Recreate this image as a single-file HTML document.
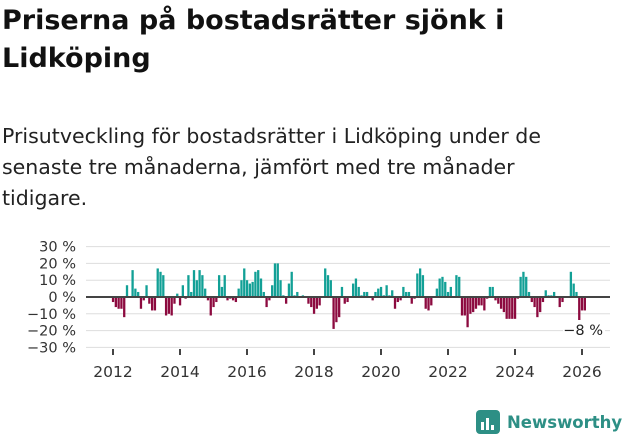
<!DOCTYPE html>
<html><head><meta charset="utf-8"><style>
body{margin:0;width:631px;height:439px;background:#fff;font-family:"DejaVu Sans","Liberation Sans",sans-serif;overflow:hidden;position:relative}
h1{position:absolute;left:2px;top:2px;margin:0;font-size:27px;line-height:38px;font-weight:bold;color:#111;letter-spacing:0}
p{position:absolute;left:2px;top:121px;margin:0;font-size:20.5px;line-height:31px;color:#222;letter-spacing:0}
svg{position:absolute;left:0;top:0}
</style></head><body>
<h1>Priserna på bostadsrätter sjönk i<br>Lidköping</h1>
<p>Prisutveckling för bostadsrätter i Lidköping under de<br>senaste tre månaderna, jämfört med tre månader<br>tidigare.</p>
<svg id="chart" width="631" height="439"></svg>
<script>
const startYear = 2012;
const values = [-3,-6,-7,-7,-12,7,0,16,5,3,-7,-2,7,-4,-8,-8,17,15,13,-11,-10,-11,-4,2,-5,7,-1,13,3,16,10,16,13,5,-2,-11,-6,-3,13,6,13,-2,-1,-2,-3,5,10,17,10,8,9,15,16,11,3,-6,-2,7,20,20,10,1,-4,8,15,1,3,0,1,0,-4,-6,-10,-7,-5,0,17,13,10,-19,-15,-12,6,-4,-3,0,8,11,6,1,3,3,0,-2,3,5,6,1,7,1,4,-7,-3,-2,6,3,3,-4,-1,14,17,13,-7,-8,-5,0,5,11,12,9,3,6,0,13,12,-11,-11,-18,-10,-9,-7,-5,-5,-8,-1,6,6,-2,-4,-7,-9,-13,-13,-13,-13,-1,12,15,12,3,-3,-6,-12,-9,-3,4,1,1,3,0,-6,-3,0,0,15,8,3,-14,-8,-8];
const yTicks = [30,20,10,0,-10,-20,-30];
const yTickLabels = ["30 %","20 %","10 %","0 %","−10 %","−20 %","−30 %"];
const xTicks = [2012,2014,2016,2018,2020,2022,2024,2026];
const lastLabel = "−8 %";
const NS="http://www.w3.org/2000/svg", svg=document.getElementById('chart');
const y=v=>297-v*1.68, x=t=>113+(t-2012)*33.5;
function mk(t,a){const e=document.createElementNS(NS,t);for(const k in a)e.setAttribute(k,a[k]);svg.appendChild(e);return e;}
yTicks.forEach((v,i)=>{
 const g=mk('line',{x1:86,x2:610,y1:y(v),y2:y(v),stroke:'#ddd','stroke-width':1});
 
 
 const t=mk('text',{x:76,y:y(v)+5,'text-anchor':'end','font-size':14.5,fill:'#333'});t.textContent=yTickLabels[i];
 
 
});
values.forEach((v,i)=>{
 const cx=x(startYear+i/12);
 const r=mk('rect',{x:cx-1.1,width:2.3,y:v>=0?y(v):y(0),height:Math.abs(y(v)-y(0)),fill:v>=0?'#12a096':'#8c0a3f'});
 
 
});
const z=mk('line',{x1:86,x2:610,y1:y(0),y2:y(0),stroke:'#444','stroke-width':2});


xTicks.forEach(t=>{
 const l=mk('line',{x1:x(t),x2:x(t),y1:349,y2:355,stroke:'#444','stroke-width':2});
 
 
 const tx=mk('text',{x:x(t),y:377,'text-anchor':'middle','font-size':15.5,fill:'#333'});tx.textContent=t;
 
 
});
const lb=mk('rect',{x:563,y:320,width:42,height:18,fill:'#fff'});


const ll=mk('text',{x:603,y:335,'text-anchor':'end','font-size':14.5,fill:'#222'});ll.textContent=lastLabel;


const logo=mk('g',{});


logo.innerHTML='<rect x="476" y="410" width="24" height="24" rx="4" fill="#2d8f85"/><rect x="481" y="422" width="3" height="8" fill="#fff"/><rect x="486" y="418" width="3" height="12" fill="#fff"/><rect x="491" y="425" width="3" height="5" fill="#fff"/><text x="507" y="428" font-size="16.5" font-weight="bold" fill="#2d8f85">Newsworthy</text>';
</script>
</body></html>
